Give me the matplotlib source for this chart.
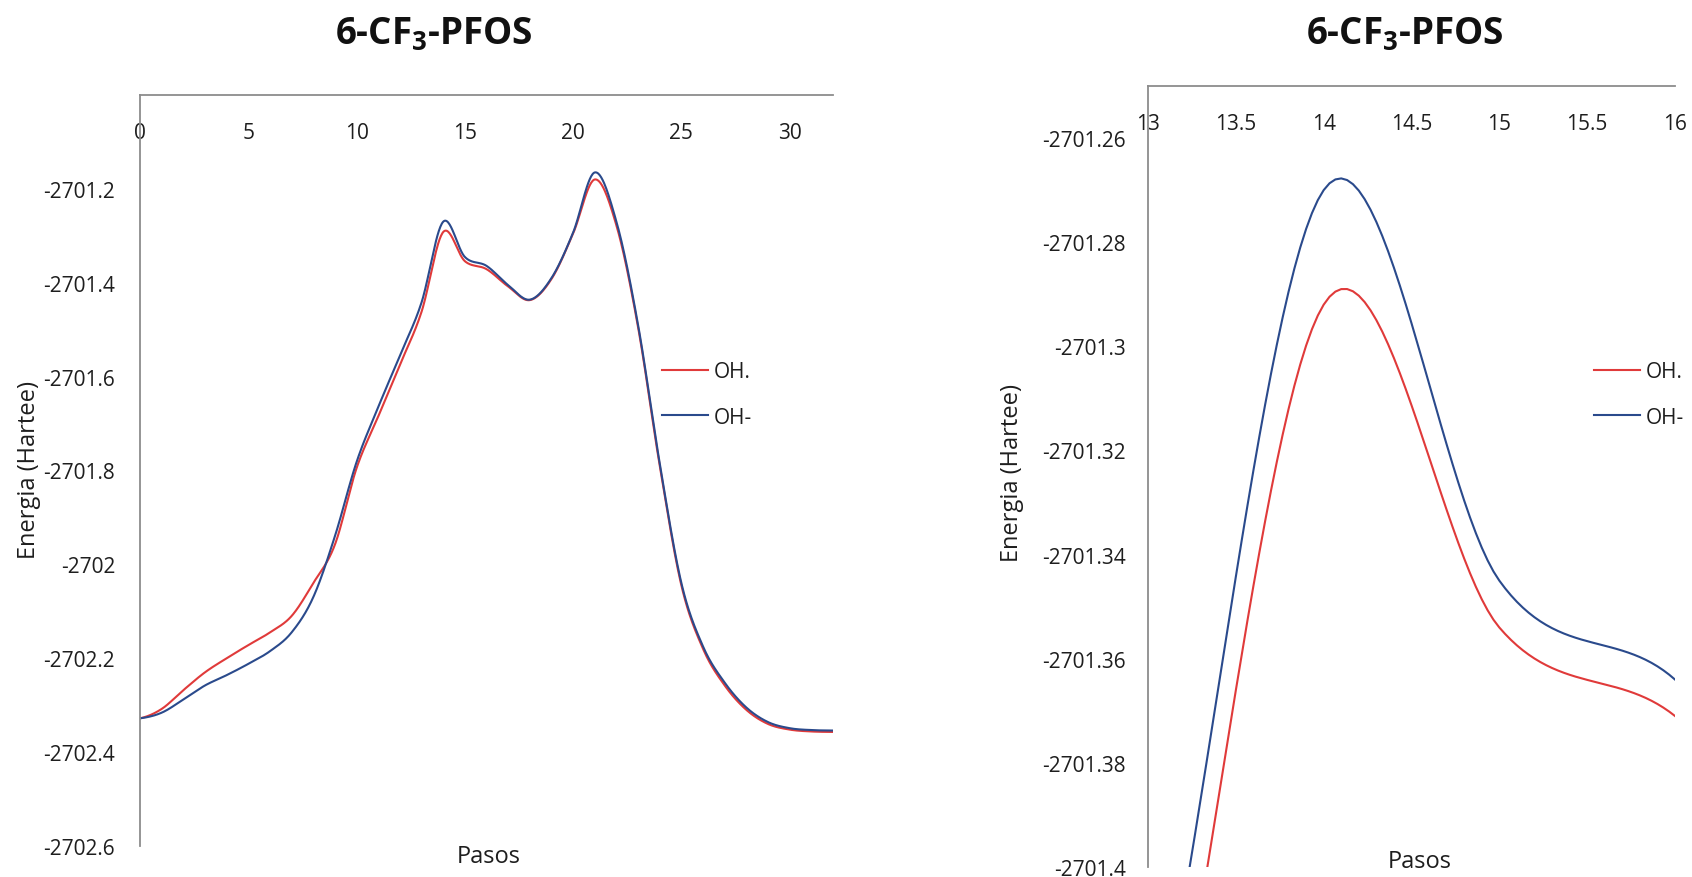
import numpy as np
import matplotlib
matplotlib.use("Agg")
import matplotlib.pyplot as plt
from matplotlib.ticker import FuncFormatter, MultipleLocator

plt.rcParams['font.family'] = ['Open Sans', 'DejaVu Sans']
plt.rcParams['mathtext.default'] = 'regular'

# pasos (steps) and energies
pasos = list(range(33))
oh_rad = [-2702.328, -2702.308, -2702.268, -2702.230, -2702.200, -2702.172,
          -2702.145, -2702.110, -2702.040, -2701.958, -2701.795, -2701.685,
          -2701.575, -2701.462, -2701.292, -2701.354, -2701.371, -2701.408,
          -2701.437, -2701.392, -2701.295, -2701.180, -2701.278, -2701.495,
          -2701.790, -2702.045, -2702.180, -2702.258, -2702.310, -2702.340,
          -2702.352, -2702.356, -2702.357]
oh_ion = [-2702.328, -2702.316, -2702.288, -2702.258, -2702.236, -2702.212,
          -2702.185, -2702.145, -2702.070, -2701.940, -2701.782, -2701.665,
          -2701.555, -2701.442, -2701.270, -2701.345, -2701.364, -2701.405,
          -2701.436, -2701.390, -2701.293, -2701.165, -2701.270, -2701.490,
          -2701.785, -2702.040, -2702.175, -2702.252, -2702.305, -2702.336,
          -2702.349, -2702.353, -2702.354]

labels = ['OH.', 'OH-']
colors = ['#E03A3A', '#2A4A8C']
title = '6-CF$_3$-PFOS'
text_col = '#1E1E1E'
spine_col = '#8C8C8C'


# smoothed line like the spreadsheet one (catmull-rom through the points)
def smooth(x, y, n=30):
    x = np.asarray(x, float)
    y = np.asarray(y, float)
    xs, ys = [], []
    for i in range(len(x) - 1):
        y0 = y[i - 1] if i > 0 else y[i]
        y3 = y[i + 2] if i + 2 < len(y) else y[i + 1]
        m1 = (y[i + 1] - y0) / 2
        m2 = (y3 - y[i]) / 2
        t = np.linspace(0, 1, n, endpoint=False)
        h00 = 2*t**3 - 3*t**2 + 1
        h10 = t**3 - 2*t**2 + t
        h01 = -2*t**3 + 3*t**2
        h11 = t**3 - t**2
        xs.append(x[i] + t * (x[i + 1] - x[i]))
        ys.append(h00*y[i] + h10*m1 + h01*y[i + 1] + h11*m2)
    xs.append([x[-1]])
    ys.append([y[-1]])
    return np.concatenate(xs), np.concatenate(ys)


fmt = FuncFormatter(lambda v, p: f"{round(v, 4):g}")

W, H = 1692, 878
fig = plt.figure(figsize=(W / 100, H / 100), dpi=100)


def panel(rect, xlim, ylim, xstep, ystep, ypad):
    ax = fig.add_axes(rect)
    for ser, lab, c in zip([oh_rad, oh_ion], labels, colors):
        sx, sy = smooth(pasos, ser)
        ax.plot(sx, sy, color=c, lw=1.5, label=lab)
    ax.set_xlim(*xlim)
    ax.set_ylim(*ylim)
    ax.xaxis.set_major_locator(MultipleLocator(xstep))
    ax.yaxis.set_major_locator(MultipleLocator(ystep))
    ax.xaxis.set_major_formatter(fmt)
    ax.yaxis.set_major_formatter(fmt)
    ax.spines['right'].set_visible(False)
    ax.spines['top'].set_visible(False)
    ax.spines['bottom'].set_position(('axes', 1.0))
    for s in ['bottom', 'left']:
        ax.spines[s].set_color(spine_col)
        ax.spines[s].set_linewidth(1.3)
    ax.tick_params(axis='x', length=0, pad=19.5, labelsize=15, colors=text_col)
    ax.tick_params(axis='y', length=0, pad=ypad, labelsize=15, colors=text_col)
    # drop the label at the top crossing
    yt = [v for v in ax.get_yticks() if v < ylim[1] - 1e-9 and v >= ylim[0] - 1e-9]
    ax.set_yticks(yt)
    return ax


ax1 = panel([140/W, 1 - 847/H, 693/W, 751/H], (0, 32), (-2702.6, -2701.0), 5, 0.2, 18)
ax2 = panel([1148/W, 1 - 868/H, 527/W, 781/H], (13, 16), (-2701.4, -2701.25), 0.5, 0.02, 16)

for ax, tx, lx, ly, px, py, legx in [
        (ax1, 434, 29, 470, 489, 857, 662),
        (ax2, 1405, 1012, 473, 1420, 862, 1594)]:
    fig.text(tx / W, 1 - 35 / H, title, ha='center', va='center',
             fontsize=26.5, fontweight='bold', color='#111111')
    fig.text(lx / W, 1 - ly / H, 'Energia (Hartee)', rotation=90,
             ha='center', va='center', fontsize=17, color=text_col)
    fig.text(px / W, 1 - py / H, 'Pasos', ha='center', va='center',
             fontsize=17, color=text_col)
    ax.legend(loc='upper left', bbox_to_anchor=(legx / W, 1 - 362 / H),
              bbox_transform=fig.transFigure, frameon=False, fontsize=15,
              handlelength=2.2, handletextpad=0.3, labelspacing=1.18,
              borderpad=0, borderaxespad=0, labelcolor=text_col)

fig.savefig('out.png', dpi=100)
